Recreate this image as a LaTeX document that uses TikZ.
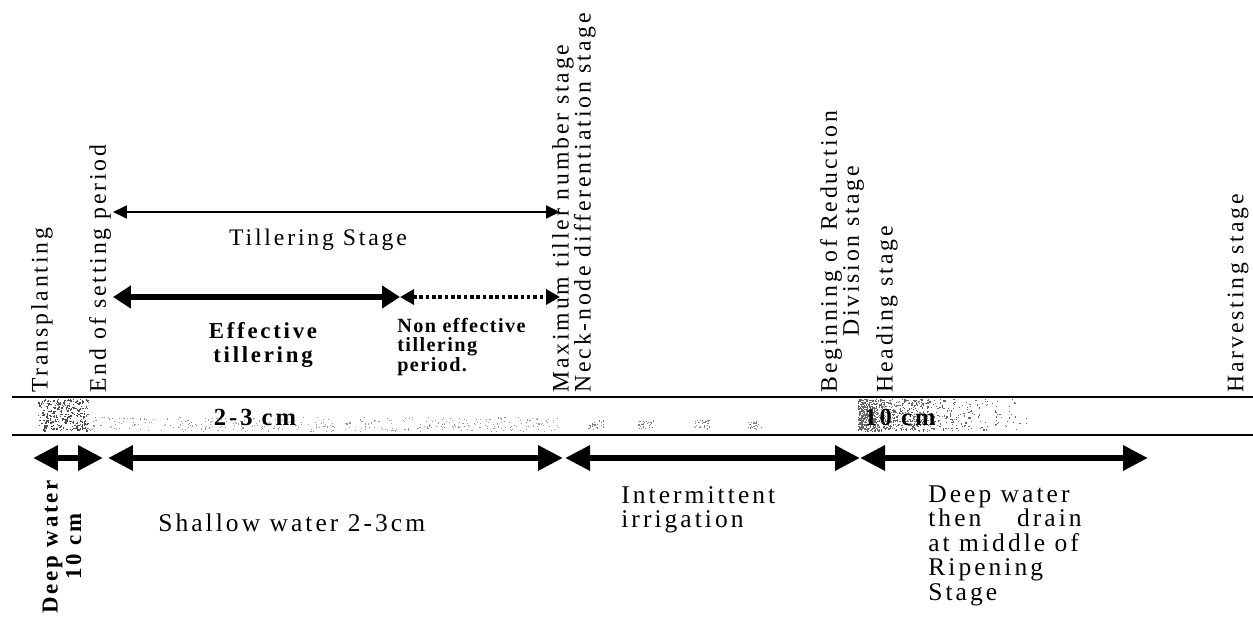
\documentclass[tikz,border=0pt]{standalone}
\usepackage{fontspec}
\setmainfont{Liberation Serif}[LetterSpace=12]
\usetikzlibrary{arrows.meta}

\begin{document}
\begin{tikzpicture}[x=0.02cm, y=0.02cm,
  font=\fontsize{13.5}{12.5}\selectfont,
  stage/.style={rotate=90, anchor=west, inner sep=0pt, align=left},
  note/.style={inner sep=0pt, align=left, font=\fontsize{14.5}{14}\selectfont},
  waterarrow/.style={line width=3.8pt, {Triangle[length=0.5cm,width=0.48cm]}-{Triangle[length=0.5cm,width=0.48cm]}},
  tillerarrow/.style={line width=1pt, {Triangle[length=0.28cm,width=0.26cm]}-{Triangle[length=0.28cm,width=0.26cm]}},
  effarrow/.style={line width=3.2pt, {Triangle[length=0.36cm,width=0.44cm]}-{Triangle[length=0.36cm,width=0.44cm]}},
  noneffarrow/.style={line width=2.2pt, dash pattern=on 2pt off 1.6pt, {Triangle[length=0.28cm,width=0.3cm]}-{Triangle[length=0.28cm,width=0.3cm]}},
  grain/.style={fill=black!#1}]
\useasboundingbox (0,0) rectangle (1253,618);

\pgfmathsetseed{17}
\foreach \i in {1,...,300}
  \fill[grain=70] ({38+50*rnd},{186+32*rnd}) rectangle ++(1.3,1.3);
\foreach \i in {1,...,380}
  \fill[grain=40] ({88+470*rnd},{186+14*rnd}) rectangle ++(1.1,1.1);
\foreach \cx in {588,638,693,748}
  \foreach \i in {1,...,25}
    \fill[grain=50] ({\cx+16*rnd},{188+9*rnd}) rectangle ++(1.1,1.1);
\foreach \i in {1,...,900}
  \fill[grain=60] ({858+170*rnd*rnd},{186+32*rnd}) rectangle ++(1.2,1.2);

\coordinate (bandtopL) at (12,221);
\coordinate (bandtopR) at (1253,221);
\coordinate (bandbotL) at (12,183);
\coordinate (bandbotR) at (1253,183);
\draw[line width=1pt] (bandtopL) -- (bandtopR);
\draw[line width=1.4pt] (bandbotL) -- (bandbotR);

\node[font=\fontsize{14}{14}\selectfont\bfseries, inner sep=0pt] (shallowcm) at (255,201) {2-3 cm};
\node[font=\fontsize{14}{14}\selectfont\bfseries, inner sep=0pt] (deepcm) at (900,201) {10 cm};

\node[stage] (transplant) at (42,225) {Transplanting};
\node[stage] (setting) at (100,225) {End of setting period};
\node[stage] (maxtiller) at (574,225) {Maximum tiller number stage\\Neck-node differentiation stage};
\node[stage, align=center] (reduction) at (842,225) {Beginning of Reduction\\Division stage};
\node[stage] (heading) at (887,225) {Heading stage};
\node[stage] (harvest) at (1238,225) {Harvesting stage};

\coordinate (tillA) at (113,406);
\coordinate (tillB) at (560,406);
\coordinate (effA) at (113,321);
\coordinate (effB) at (400,321);
\coordinate (effC) at (560,321);
\draw[tillerarrow] (tillA) -- (tillB);
\draw[effarrow] (effA) -- (effB);
\draw[noneffarrow] (effB) -- (effC);
\node (tillering) at (318,378) {Tillering Stage};
\node[font=\fontsize{13}{14}\selectfont\bfseries, align=center] (effective) at (263,273) {Effective\\tillering};
\node[font=\fontsize{11.5}{10.5}\selectfont\bfseries\addfontfeature{LetterSpace=7}, align=left, anchor=west, inner sep=0pt] (noneffective) at (397,271) {Non effective\\tillering\\period.};

\coordinate (t0) at (33,160);
\coordinate (t1) at (103,160);
\coordinate (t2) at (108,160);
\coordinate (t3) at (563,160);
\coordinate (t4) at (565,160);
\coordinate (t5) at (860,160);
\coordinate (t6) at (1148,160);
\draw[waterarrow] (t0) -- (t1);
\draw[waterarrow] (t2) -- (t3);
\draw[waterarrow] (t4) -- (t5);
\draw[waterarrow] (t5) -- (t6);

\node[stage, anchor=east, align=center, font=\fontsize{13}{13.5}\selectfont\bfseries] (deepstart) at (62,138) {Deep water\\10 cm};
\node[note, anchor=west] (shallow) at (158,95) {Shallow water 2-3cm};
\node[note, anchor=west] (intermittent) at (621,108) {Intermittent\\irrigation};
\node[note, anchor=north west] (ripening) at (928,133) {Deep water\\then\hspace{1.4em}drain\\at middle of\\Ripening\\Stage};
\end{tikzpicture}
\end{document}
